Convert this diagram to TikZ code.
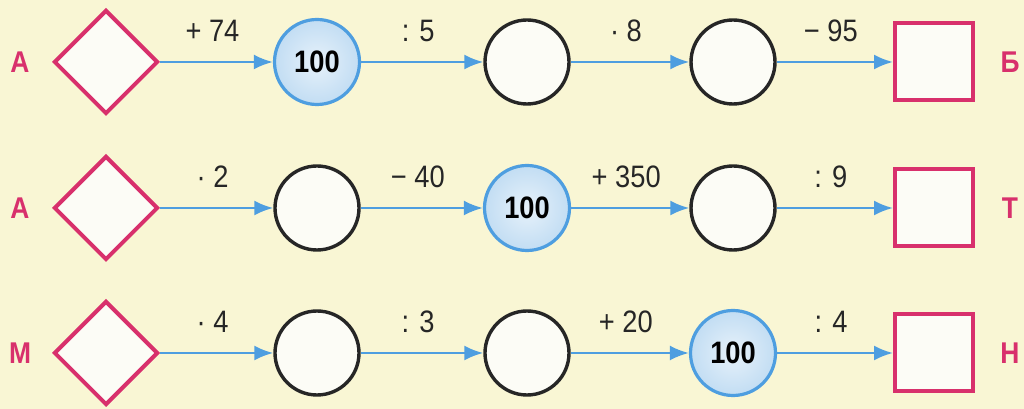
\documentclass[tikz,border=0pt]{standalone}
\usepackage{fontspec}
\setmainfont{Liberation Sans}[FakeStretch=0.88]
\usetikzlibrary{shapes.geometric, arrows.meta}
\definecolor{rimpink}{HTML}{D8306C}
\definecolor{flowblue}{HTML}{4E9EE0}
\definecolor{paper}{HTML}{F9F6D4}
\definecolor{boxfill}{HTML}{FCFCF6}
\definecolor{ballblue}{HTML}{C2DDF3}
\tikzset{
    startbox/.style={
        diamond, draw=rimpink, line width=4pt, fill=boxfill,
        minimum width=104pt, minimum height=104pt, inner sep=0pt
    },
    blankball/.style={
        circle, draw=black!85, line width=3.4pt, fill=boxfill,
        minimum size=84pt, inner sep=0pt
    },
    knownball/.style={
        circle, draw=flowblue, line width=3.2pt, inner color=white!60!ballblue,
        outer color=ballblue, minimum size=85pt, inner sep=0pt,
        font=\bfseries\fontsize{31}{31}\selectfont
    },
    endbox/.style={
        rectangle, draw=rimpink, line width=4pt, fill=boxfill,
        minimum width=78pt, minimum height=77pt
    },
    rowletter/.style={
        text=rimpink, font=\bfseries\fontsize{30}{30}\selectfont
    },
    oplabel/.style={
        font=\fontsize{31}{31}\selectfont, text=black!85, yshift=31pt, xshift=-4pt
    },
    flowarrow/.style={
        draw=flowblue, line width=2.5pt, -{Latex[length=19pt, width=15pt]}
    }
}
\begin{document}
\begin{tikzpicture}[x=1pt, y=1pt]
        \fill[paper] (0,0) rectangle (1024,409);
        \useasboundingbox (0,0) rectangle (1024,409);

        % first row
        \node[rowletter] (la) at (20,347) {А};
        \node[startbox]  (a0) at (106,347) {};
        \node[knownball] (a1) at (317,347) {100};
        \node[blankball] (a2) at (527,347) {};
        \node[blankball] (a3) at (733,347) {};
        \node[endbox]    (a4) at (934,347) {};
        \node[rowletter] (ra) at (1010,347) {Б};

        % second row
        \node[rowletter] (lb) at (20,201) {А};
        \node[startbox]  (b0) at (106,201) {};
        \node[blankball] (b1) at (317,201) {};
        \node[knownball] (b2) at (527,201) {100};
        \node[blankball] (b3) at (733,201) {};
        \node[endbox]    (b4) at (934,201) {};
        \node[rowletter] (rb) at (1010,201) {Т};

        % third row
        \node[rowletter] (lc) at (20,56) {М};
        \node[startbox]  (c0) at (106,56) {};
        \node[blankball] (c1) at (317,56) {};
        \node[blankball] (c2) at (527,56) {};
        \node[knownball] (c3) at (733,56) {100};
        \node[endbox]    (c4) at (934,56) {};
        \node[rowletter] (rc) at (1010,56) {Н};

        \path (a0) edge[flowarrow] node[oplabel] {+ 74} (a1)
              (a1) edge[flowarrow] node[oplabel] {: 5} (a2)
              (a2) edge[flowarrow] node[oplabel] {· 8} (a3)
              (a3) edge[flowarrow] node[oplabel] {− 95} (a4);

        \path (b0) edge[flowarrow] node[oplabel] {· 2} (b1)
              (b1) edge[flowarrow] node[oplabel] {− 40} (b2)
              (b2) edge[flowarrow] node[oplabel] {+ 350} (b3)
              (b3) edge[flowarrow] node[oplabel] {: 9} (b4);

        \path (c0) edge[flowarrow] node[oplabel] {· 4} (c1)
              (c1) edge[flowarrow] node[oplabel] {: 3} (c2)
              (c2) edge[flowarrow] node[oplabel] {+ 20} (c3)
              (c3) edge[flowarrow] node[oplabel] {: 4} (c4);
\end{tikzpicture}
\end{document}
